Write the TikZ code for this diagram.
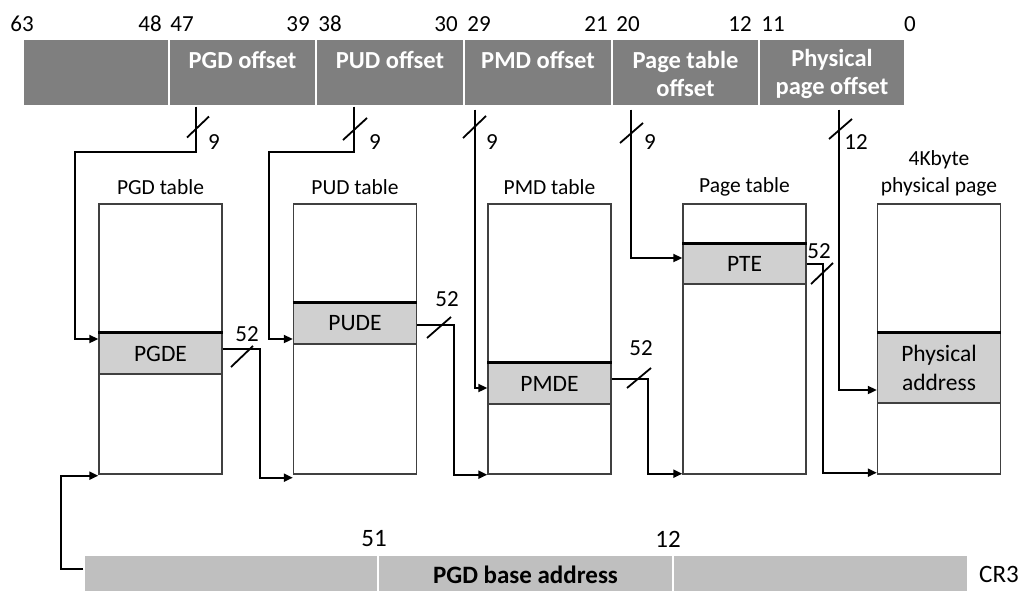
\documentclass[tikz,border=0pt]{standalone}
\usepackage{fontspec}
\setmainfont{Carlito}
\usetikzlibrary{arrows.meta,calc}
\definecolor{topgray}{HTML}{7F7F7F}
\definecolor{entrygray}{HTML}{D0D0D0}
\definecolor{crgray}{HTML}{BFBFBF}
\definecolor{boxgray}{HTML}{404040}
\begin{document}
\begin{tikzpicture}[x=1pt,y=-1pt,
  topcell/.style={draw=white,line width=1.2pt,fill=topgray,minimum height=67pt,inner sep=0pt},
  celltext/.style={text=white,font=\fontsize{24.5}{28}\selectfont\bfseries,align=center,inner sep=0pt},
  bitnum/.style={font=\fontsize{23}{27}\selectfont,inner sep=0pt},
  tbl/.style={draw=boxgray,fill=white,line width=1.4pt,minimum width=123pt,minimum height=270pt,inner sep=0pt},
  entry/.style={fill=entrygray,draw=boxgray,line width=1.4pt,minimum width=123pt,inner sep=0pt,font=\fontsize{23.5}{29}\selectfont,align=center},
  topline/.style={line width=2.8pt,black},
  tbllabel/.style={font=\fontsize{21.5}{27}\selectfont,inner sep=0pt,align=center},
  conn/.style={line width=2pt,black},
  arr/.style={conn,-{Triangle[length=9pt,width=8pt]}},
  slash/.style={line width=1.8pt,black},
  crcell/.style={fill=crgray,draw=white,line width=1.2pt,minimum height=38pt,inner sep=0pt},
  crtext/.style={font=\fontsize{25}{29}\selectfont,inner sep=0pt}]
\useasboundingbox (0,0) rectangle (1019,590);

% ---- virtual address bar ----
\node[topcell,minimum width=146pt] (c63) at (96,72.5) {};
\node[topcell,minimum width=147pt] (pgdoff) at (242.5,72.5) {};
\node[topcell,minimum width=148pt] (pudoff) at (390,72.5) {};
\node[topcell,minimum width=148pt] (pmdoff) at (538,72.5) {};
\node[topcell,minimum width=147pt] (ptoff) at (685.5,72.5) {};
\node[topcell,minimum width=146pt] (physoff) at (832,72.5) {};
\node[celltext] (tpgd) at (242.5,60) {PGD offset};
\node[celltext] (tpud) at (390,60) {PUD offset};
\node[celltext] (tpmd) at (538,60) {PMD offset};
\node[celltext] (tpt) at (685.5,74) {Page table\\offset};
\node[celltext] (tphys) at (832,74) {Physical\\page offset};

% bit numbers
\node[bitnum] (b63) at (22,24) {63};
\node[bitnum] (b48) at (150,24) {48};
\node[bitnum] (b47) at (182,24) {47};
\node[bitnum] (b39) at (298,24) {39};
\node[bitnum] (b38) at (330,24) {38};
\node[bitnum] (b30) at (446,24) {30};
\node[bitnum] (b29) at (479,24) {29};
\node[bitnum] (b21) at (596,24) {21};
\node[bitnum] (b20) at (628,24) {20};
\node[bitnum] (b12) at (740,24) {12};
\node[bitnum] (b11) at (773,24) {11};
\node[bitnum] (b0) at (910,24) {0};

% ---- tables ----
\node[tbl] (pgdt) at (160.5,339) {};
\node[tbl] (pudt) at (355,339) {};
\node[tbl] (pmdt) at (549.5,339) {};
\node[tbl] (ptt) at (744.5,339) {};
\node[tbl] (physt) at (939,339) {};

\node[tbllabel] (lpgd) at (160.5,187) {PGD table};
\node[tbllabel] (lpud) at (355,187) {PUD table};
\node[tbllabel] (lpmd) at (549.5,187) {PMD table};
\node[tbllabel] (lpt) at (744.5,187) {Page table};
\node[tbllabel] (lphys) at (939,173.5) {4Kbyte\\physical page};

\node[entry,minimum height=41pt] (pgde) at (160.5,353.5) {PGDE};
\node[entry,minimum height=41pt] (pude) at (355,323.5) {PUDE};
\node[entry,minimum height=41pt] (pmde) at (549.5,383.5) {PMDE};
\node[entry,minimum height=40pt] (pte) at (744.5,264) {PTE};
\node[entry,minimum height=70pt] (phys) at (939,368) {Physical\\address};
\foreach \e in {pgde,pude,pmde,pte,phys}
  \draw[topline] (\e.north west) -- (\e.north east);

% ---- CR3 ----
\node[crcell,minimum width=294pt] (cr0) at (231,574) {};
\node[crcell,minimum width=295pt] (cr1) at (525.5,574) {};
\node[crcell,minimum width=295pt] (cr2) at (820.5,574) {};
\node[crtext,font=\fontsize{25}{29}\selectfont\bfseries] (crt) at (525.5,575) {PGD base address};
\node[crtext] (n51) at (374,539) {51};
\node[crtext] (n12) at (668,539) {12};
\node[crtext] (ncr3) at (999,574) {CR3};

% ---- connectors from the offsets ----
\draw[arr] ($(pgdoff.south west)+(28,0)$) |- (75,152) |- ([yshift=14.5pt]pgde.west);
\draw[arr] ($(pudoff.south west)+(39,0)$) |- (269,152) |- ([yshift=-15.5pt]pude.west);
\draw[arr] ($(pmdoff.south west)+(12,3)$) |- ([yshift=-4.5pt]pmde.west);
\draw[arr] ($(ptoff.south west)+(20,3)$) |- ([yshift=6pt]pte.west);
\draw[arr] ($(physoff.south west)+(81,3)$) |- ([yshift=-22pt]phys.west);

% ---- connectors between tables ----
\draw[arr] ([yshift=4.5pt]pgde.east) -- ++(37,0) |- ([yshift=-3pt]pudt.south west);
\draw[arr] ([yshift=-1.5pt]pude.east) -- ++(37,0) |- (pmdt.south west);
\draw[arr] ([yshift=4.5pt]pmde.east) -- ++(36,0) |- ([yshift=1pt]ptt.south west);
\draw[arr] (pte.east) -- ++(16,0) |- ([yshift=2pt]physt.south west);
\draw[arr] ([yshift=5pt]cr0.west) -- ++(-22,0) |- ([yshift=-1pt]pgdt.south west);

% ---- bus width marks ----
\draw[slash] (198,127) +(-11,10.5) -- +(11,-10.5);
\draw[slash] (355,129) +(-12,11) -- +(12,-11);
\draw[slash] (474.5,127) +(-11.5,11) -- +(11.5,-11);
\draw[slash] (631.5,133) +(-11.5,10) -- +(11.5,-10);
\draw[slash] (840.5,129) +(-11.5,10) -- +(11.5,-10);
\node[bitnum] (w1) at (214,142) {9};
\node[bitnum] (w2) at (375,142) {9};
\node[bitnum] (w3) at (492,142) {9};
\node[bitnum] (w4) at (650,142) {9};
\node[bitnum] (w5) at (856,142) {12};

\draw[slash] (242,356.5) +(-11,10.5) -- +(11,-10.5);
\draw[slash] (439,327.5) +(-12,10.5) -- +(12,-10.5);
\draw[slash] (639,378) +(-12,10) -- +(12,-10);
\draw[slash] (822,273.5) +(-11,10.5) -- +(11,-10.5);
\node[bitnum] (e1) at (247,334) {52};
\node[bitnum] (e2) at (447,299) {52};
\node[bitnum] (e3) at (641,348) {52};
\node[bitnum] (e4) at (819,251) {52};
\end{tikzpicture}
\end{document}
